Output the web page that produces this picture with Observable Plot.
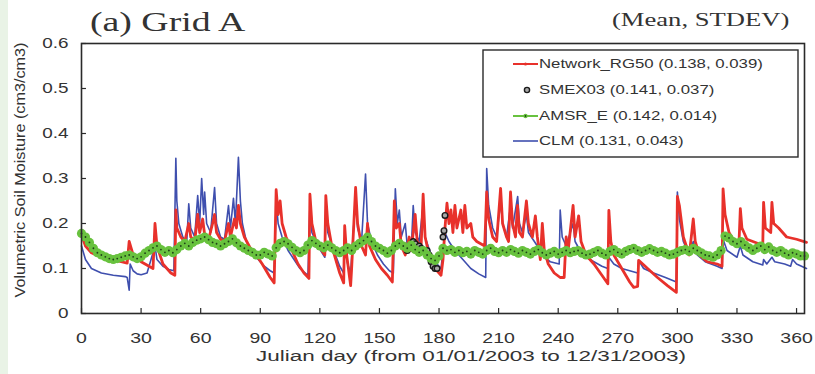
<!DOCTYPE html>
<html>
<head>
<meta charset="utf-8">
<script src="https://cdn.jsdelivr.net/npm/d3@7"></script>
<script src="https://cdn.jsdelivr.net/npm/@observablehq/plot@0.6"></script>
<style>
  html, body { margin: 0; padding: 0; background: #fff; }
  #wrap { position: relative; width: 815px; height: 374px; overflow: hidden; }
  #strip { position: absolute; left: 0; top: 0; width: 8px; height: 374px; background: #e9f3e6; }
</style>
</head>
<body>
<div id="wrap"><div id="strip"></div></div>
<script>
// ---------------- DATA ----------------
const xTicks = [0, 30, 60, 90, 120, 150, 180, 210, 240, 270, 300, 330, 360];
const yTicks = [0, 0.1, 0.2, 0.3, 0.4, 0.5, 0.6];

const seriesNames = ["Network_RG50", "SMEX03", "AMSR_E", "CLM"];
const seriesStats = ["(0.138, 0.039)", "(0.141, 0.037)", "(0.142, 0.014)", "(0.131, 0.043)"];

// Network_RG50 [day, value]
const networkRG50 = [
[0,.175],[2,.15],[5,.135],[10,.125],[15,.12],[20,.115],[23,.112],[24,.16],[26,.13],[30,.115],[34,.105],[36,.1],[37,.2],[38,.15],[41,.11],[45,.09],[47,.085],
[47.5,.23],[48,.19],[50,.17],[52,.16],[54,.2],[55,.17],[57,.16],[58.5,.22],[59.5,.18],[61,.21],[62,.175],[64,.165],[66,.2],[67,.22],[68,.18],[70,.165],[72,.16],
[74,.2],[75,.17],[77,.21],[78,.19],[79,.24],[80,.2],[82,.17],[85,.145],[88,.13],[91,.11],[95,.08],[97,.068],[98,.275],[99,.22],[100,.25],[101,.2],[103,.17],
[106,.14],[109,.11],[112,.09],[114.5,.078],[115,.265],[116,.2],[118,.16],[121,.14],[122.5,.13],[123,.262],[124,.2],[126,.15],[128,.12],[130,.09],[132,.068],
[132.5,.195],[133.5,.13],[135.5,.062],[136,.1],[138,.28],[139,.2],[141,.15],[143,.13],[144,.2],[145,.15],[148,.12],[151,.1],[154,.085],[156.5,.07],[157.5,.25],
[158.5,.19],[160,.2],[161,.15],[163,.13],[165,.17],[166,.14],[168,.22],[169,.16],[171,.15],[172,.265],[173,.17],[175,.13],[178,.1],[181,.085],[182,.12],[183,.19],
[184,.245],[185,.2],[186,.23],[187,.18],[188,.24],[189,.19],[191,.23],[192,.18],[193,.24],[194,.19],[196,.2],[197,.17],[199,.16],[201,.155],[203,.15],[204,.27],
[205,.21],[207,.17],[209,.16],[211,.278],[212,.2],[214,.17],[215,.16],[216,.27],[217,.2],[218.5,.17],[219.5,.24],[220.5,.18],[222,.17],[224,.25],[225,.2],[227,.17],
[228.5,.217],[229.5,.17],[231,.12],[232,.2],[233,.14],[235,.11],[238,.09],[241,.08],[243,.08],[244,.17],[245,.14],[247.5,.24],[248.5,.17],[250.3,.217],[251.5,.16],
[254,.13],[258,.11],[262,.085],[265,.066],[265.5,.229],[266.5,.16],[268,.13],[272,.1],[276,.07],[278,.058],[280,.06],[280.5,.118],[285,.1],[290,.08],[295,.062],
[299.5,.047],[300,.26],[301,.24],[303,.17],[306,.13],[308,.21],[309,.16],[311,.13],[315,.115],[320,.11],[322.5,.105],[323,.277],[324,.22],[326,.18],[328,.165],
[331,.155],[331.7,.233],[332.5,.19],[335,.165],[338,.16],[341,.155],[343,.155],[343.4,.247],[344.3,.19],[347,.18],[347.6,.247],[348.5,.2],[351,.19],[355,.17],
[360,.165],[365,.158]
];

// CLM [day, value]
const clm = [
[0,.15],[2,.12],[5,.1],[10,.09],[16,.085],[22,.082],[23,.08],[24,.052],[24.5,.11],[26,.095],[28,.088],[30,.086],[33,.09],[37,.15],[38,.12],[41,.105],[44,.098],
[46.5,.095],[47.5,.345],[48,.25],[49,.2],[51,.17],[53,.16],[54,.244],[55,.19],[57,.17],[58.5,.262],[59.5,.2],[60.5,.3],[61.5,.22],[62,.27],[63,.2],[65,.18],
[67,.28],[68,.2],[70,.17],[72,.165],[74,.24],[75,.19],[76.5,.256],[77.5,.2],[79,.347],[80,.25],[81,.2],[83,.16],[86,.135],[89,.12],[92,.105],[95,.095],[97,.09],
[98,.25],[99,.2],[101,.17],[104,.14],[107,.12],[110,.1],[114,.085],[115,.24],[116,.18],[119,.15],[122.5,.125],[123,.24],[124,.18],[127,.14],[130,.105],[132,.09],
[132.5,.15],[134,.11],[135.5,.09],[138,.26],[139,.19],[141,.16],[143,.31],[144,.2],[146,.16],[149,.13],[152,.11],[155,.095],[157,.09],[158,.277],[159,.2],
[160,.23],[161,.17],[163,.2],[164,.15],[166,.14],[167,.24],[168,.18],[170,.16],[172,.24],[173,.17],[176,.13],[179,.11],[181,.1],[183,.18],[185,.16],[188,.14],
[192,.12],[196,.1],[200,.088],[203.5,.08],[204,.322],[205,.24],[207,.19],[209,.17],[211,.25],[212,.2],[214,.17],[216,.24],[217,.19],[219.6,.26],[220.5,.2],
[222,.18],[224,.22],[225,.18],[228,.16],[231,.14],[233,.125],[236,.115],[240.5,.11],[241,.23],[242,.17],[244,.15],[247.5,.2],[248.5,.16],[251,.14],[254,.125],
[258,.115],[262,.105],[265,.1],[265.5,.125],[268,.11],[272,.1],[276,.095],[280,.09],[280.5,.118],[283,.1],[288,.09],[294,.08],[299.5,.07],[300,.27],[301,.21],
[303,.16],[306,.13],[308,.16],[310,.13],[314,.115],[320,.105],[322.5,.1],[323,.165],[325,.14],[330,.125],[331.7,.15],[333,.13],[338,.115],[343,.108],[343.4,.12],
[345,.11],[347.6,.125],[349,.115],[354,.11],[357,.105],[358,.12],[360,.11],[365,.1]
];

// AMSR_E [day, value]
const amsrE = [
[0,.178],[2,.17],[4,.158],[6,.145],[8,.135],[10,.13],[12,.126],[14,.122],[16,.12],[18,.122],[20,.125],[22,.128],[24,.13],[26,.126],[28,.122],[30,.126],[32,.134],
[34,.14],[36,.146],[38,.15],[40,.142],[42,.136],[44,.14],[46,.135],[48,.142],[50,.15],[52,.156],[54,.15],[56,.158],[58,.163],[60,.166],[62,.17],[64,.164],
[66,.158],[68,.155],[70,.15],[72,.155],[74,.16],[76,.166],[78,.157],[80,.15],[82,.145],[84,.14],[86,.136],[88,.13],[90,.13],[92,.136],[94,.132],[96,.128],
[98,.146],[100,.156],[102,.16],[104,.155],[106,.147],[108,.14],[110,.135],[112,.14],[114,.152],[116,.162],[118,.156],[120,.15],[122,.146],[124,.152],[126,.146],
[128,.14],[130,.135],[132,.14],[134,.146],[136,.14],[138,.15],[140,.156],[142,.162],[144,.17],[146,.16],[148,.15],[150,.145],[152,.14],[154,.134],[156,.14],
[158,.15],[160,.156],[162,.15],[164,.145],[166,.152],[168,.142],[170,.136],[172,.14],[174,.13],[176,.122],[178,.118],[180,.128],[182,.145],[184,.14],[186,.142],
[188,.136],[190,.14],[192,.135],[194,.138],[196,.132],[198,.14],[200,.136],[202,.132],[204,.14],[206,.145],[208,.138],[210,.135],[212,.14],[214,.136],[216,.142],
[218,.138],[220,.134],[222,.14],[224,.136],[226,.132],[228,.138],[230,.142],[232,.135],[234,.13],[236,.134],[238,.138],[240,.132],[242,.136],[244,.14],[246,.135],
[248,.138],[250,.14],[252,.134],[254,.13],[256,.132],[258,.136],[260,.14],[262,.134],[264,.13],[266,.138],[268,.142],[270,.136],[272,.132],[274,.138],[276,.142],
[278,.145],[280,.14],[282,.136],[284,.14],[286,.144],[288,.14],[290,.136],[292,.138],[294,.134],[296,.13],[298,.132],[300,.136],[302,.14],[304,.142],[306,.138],
[308,.145],[310,.14],[312,.135],[314,.13],[316,.128],[318,.125],[320,.13],[322,.14],[324,.172],[326,.168],[328,.16],[330,.155],[332,.16],[334,.152],[336,.146],
[338,.14],[340,.145],[342,.15],[344,.142],[346,.148],[348,.14],[350,.136],[352,.14],[354,.134],[356,.13],[358,.135],[360,.132],[362,.128],[364,.128]
];

// SMEX03 [day, value]
const smex03 = [
[164,.14],[165,.15],[167,.16],[168,.155],[170,.15],[171,.145],[174,.14],[175,.13],[176,.115],[177,.105],[178,.1],[179,.1],[182,.17],[182.5,.184],[183,.218]
];

// ---------------- STYLE ----------------
const C = { red: "#e8312b", blue: "#3f4fae", green: "#68c23e", greenDot: "#1e3f18", smexFill: "#a8a8a8", smexStroke: "#1a1a1a", ink: "#2a2a2a", text: "#333" };
const STRETCH = 1.4;
const SANS = "'Liberation Sans', Arial, sans-serif";
const SERIF = "'Liberation Serif', 'Times New Roman', serif";

const chart = Plot.plot({
  width: 815, height: 374,
  marginLeft: 81, marginRight: 11, marginTop: 43, marginBottom: 61,
  style: { fontFamily: SANS, color: C.text, background: "transparent" },
  x: { domain: [0, 364] },
  y: { domain: [0, 0.6] },
  marks: [
    Plot.line(clm, { x: d => d[0], y: d => d[1], stroke: C.blue, strokeWidth: 1.6 }),
    Plot.line(networkRG50, { x: d => d[0], y: d => d[1], stroke: C.red, strokeWidth: 2.8 }),
    Plot.dot(smex03, { x: d => d[0], y: d => d[1], r: 2.8, fill: C.smexFill, stroke: C.smexStroke, strokeWidth: 1.4 }),
    Plot.line(amsrE, { x: d => d[0], y: d => d[1], stroke: C.green, strokeWidth: 1.5 }),
    Plot.dot(amsrE, { x: d => d[0], y: d => d[1], r: 4.6, fill: C.green, stroke: "none" }),
    Plot.dot(amsrE, { x: d => d[0], y: d => d[1], r: 0.9, fill: C.greenDot, stroke: "none" }),
    Plot.ruleX(xTicks, { x: d => d, y1: 0, y2: 0.011, stroke: C.ink, strokeWidth: 1.2 }),
    Plot.ruleY(yTicks, { y: d => d, x1: 0, x2: 2.5, stroke: C.ink, strokeWidth: 1.2 }),
    Plot.frame({ stroke: C.ink, strokeWidth: 1.6 }),
    Plot.axisX({ ticks: xTicks, tickSize: 0, tickPadding: 19, fontSize: 15, label: null, tickFormat: d => String(d) }),
    Plot.axisY({ ticks: yTicks, tickSize: 0, tickPadding: 13, fontSize: 14, label: null, tickFormat: d => d === 0 ? "0" : d.toFixed(1) })
  ]
});

document.getElementById("wrap").appendChild(chart);
chart.style.position = "absolute";
chart.style.left = "0px";
chart.style.top = "0px";

// horizontal stretch of text (the reference figure is stretched horizontally)
function stretch(el, s) {
  const ax = parseFloat(el.getAttribute("x") || 0);
  const t = el.getAttribute("transform") || "";
  el.setAttribute("transform", `${t} translate(${ax},0) scale(${s},1) translate(${-ax},0)`);
}
d3.select(chart).selectAll("g[aria-label='x-axis tick label'] text").each(function () { stretch(this, 1.3); });
d3.select(chart).selectAll("g[aria-label='y-axis tick label'] text").each(function () { stretch(this, 1.35); });

const svg = d3.select(chart);
const ann = svg.append("g").attr("font-family", SANS).attr("fill", C.text).attr("text-anchor", "start");

// Titles
ann.append("text").attr("x", 90).attr("y", 31).attr("font-family", SERIF).attr("text-anchor", "start")
  .attr("font-size", 27).text("(a) Grid A").each(function () { stretch(this, STRETCH); });
ann.append("text").attr("x", 612).attr("y", 26).attr("font-family", SERIF).attr("text-anchor", "start")
  .attr("font-size", 19).text("(Mean, STDEV)").each(function () { stretch(this, STRETCH); });

// Axis titles
ann.append("text").attr("x", 471).attr("y", 361).attr("text-anchor", "middle").attr("font-size", 15)
  .text("Julian day (from 01/01/2003 to 12/31/2003)").each(function () { stretch(this, 1.5); });
ann.append("text").attr("transform", "translate(25,170) rotate(-90)").attr("text-anchor", "middle").attr("font-size", 14)
  .attr("textLength", 255).attr("lengthAdjust", "spacingAndGlyphs")
  .text("Volumetric Soil Moisture (cm3/cm3)");

// Legend
const lg = ann.append("g");
lg.append("rect").attr("x", 483).attr("y", 50).attr("width", 315).attr("height", 107)
  .attr("fill", "#fff").attr("stroke", C.ink).attr("stroke-width", 1.4);
const rowsY = [64, 90, 116, 141];
const lx1 = 513, lx2 = 538;
// Network
lg.append("line").attr("x1", lx1).attr("x2", lx2).attr("y1", rowsY[0]).attr("y2", rowsY[0]).attr("stroke", C.red).attr("stroke-width", 2);
lg.append("circle").attr("cx", (lx1 + lx2) / 2).attr("cy", rowsY[0]).attr("r", 1.6).attr("fill", C.red);
// SMEX03
lg.append("circle").attr("cx", 527).attr("cy", rowsY[1]).attr("r", 2.6).attr("fill", C.smexFill).attr("stroke", C.smexStroke).attr("stroke-width", 1.4);
// AMSR_E
lg.append("line").attr("x1", lx1).attr("x2", lx2).attr("y1", rowsY[2]).attr("y2", rowsY[2]).attr("stroke", C.green).attr("stroke-width", 2);
lg.append("circle").attr("cx", (lx1 + lx2) / 2).attr("cy", rowsY[2]).attr("r", 2.2).attr("fill", C.green);
lg.append("circle").attr("cx", (lx1 + lx2) / 2).attr("cy", rowsY[2]).attr("r", 0.9).attr("fill", C.greenDot);
// CLM
lg.append("line").attr("x1", lx1).attr("x2", lx2).attr("y1", rowsY[3]).attr("y2", rowsY[3]).attr("stroke", C.blue).attr("stroke-width", 1.6);

seriesNames.forEach((n, i) => {
  lg.append("text").attr("x", 539).attr("y", rowsY[i]).attr("dy", "0.35em").attr("font-size", 12).attr("text-anchor", "start")
    .text(`${n} ${seriesStats[i]}`).each(function () { stretch(this, STRETCH); });
});
</script>
</body>
</html>
